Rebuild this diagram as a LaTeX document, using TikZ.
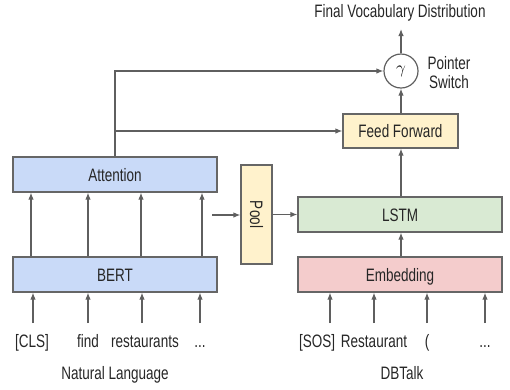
\documentclass[tikz,border=0pt]{standalone}
\usepackage{fontspec}
\setmainfont{Liberation Sans}[FakeStretch=0.75]
\usetikzlibrary{arrows.meta,calc}
\definecolor{lc}{HTML}{5F5F5F}
\definecolor{bc}{HTML}{666666}
\definecolor{bluef}{HTML}{C9DAF8}
\definecolor{yelf}{HTML}{FFF2CC}
\definecolor{grnf}{HTML}{D9EAD3}
\definecolor{redf}{HTML}{F4CCCC}
\begin{document}
\begin{tikzpicture}[x=1pt,y=-1pt,
  box/.style={draw=bc,line width=1.2pt,inner sep=0pt,font=\fontsize{18}{20}\selectfont,text=black!85,text height=13pt,text depth=0pt},
  wide/.style={box,minimum width=204pt,minimum height=35pt},
  arr/.style={draw=lc,line width=1.2pt,-{Latex[length=7pt,width=5.5pt]}},
  ln/.style={draw=lc,line width=1.2pt},
  lbl/.style={inner sep=0pt,anchor=base,font=\fontsize{18}{20}\selectfont,text=black!85}]
\useasboundingbox (0,0) rectangle (510,389);
% boxes
\node[wide,fill=bluef] (att) at (115,174.5) {Attention};
\node[wide,fill=bluef] (bert) at (115,274.5) {BERT};
\node[draw=bc,line width=1.2pt,inner sep=0pt,fill=yelf,minimum width=31pt,minimum height=99pt,font=\fontsize{18}{20}\selectfont,text=black!85] (pool) at (256.5,214.5) {\rotatebox{-90}{Pool}};
\node[wide,fill=grnf] (lstm) at (400,214.5) {LSTM};
\node[wide,fill=redf] (emb) at (400,274.5) {Embedding};
\node[box,fill=yelf,minimum width=115pt,minimum height=34pt] (ff) at (400.5,131) {Feed Forward};
\node[draw=lc,line width=1.2pt,circle,minimum size=34pt,inner sep=0pt,fill=white,font=\fontsize{17}{18}\selectfont] (g) at (401,71) {$\gamma$};
% labels
\node[lbl] (fvd) at (400,17) {Final Vocabulary Distribution};
\node[lbl] (ps1) at (449,69) {Pointer};
\node[lbl] (ps2) at (449,88) {Switch};
\node[lbl] (t1) at (32,347) {[CLS]};
\node[lbl] (t2) at (88,347) {find};
\node[lbl] (t3) at (145,347) {restaurants};
\node[lbl] (t4) at (200,347) {...};
\node[lbl] (s1) at (317,347) {[SOS]};
\node[lbl] (s2) at (374,347) {Restaurant};
\node[lbl] (s3) at (427,347) {(};
\node[lbl] (s4) at (485,347) {...};
\node[lbl] (nl) at (115,379) {Natural Language};
\node[lbl] (db) at (402,379) {DBTalk};
% input coordinates
\coordinate (a1) at (33,323);
\coordinate (a2) at (88,323);
\coordinate (a3) at (142,323);
\coordinate (a4) at (200,323);
\coordinate (b1) at (330,323);
\coordinate (b2) at (374,323);
\coordinate (b3) at (427,323);
\coordinate (b4) at (485,323);
\coordinate (pin) at (212,215);
\coordinate (top) at (400,29);
% input arrows
\foreach \c in {a1,a2,a3,a4} \draw[arr] (\c) -- (\c |- bert.south);
\foreach \c in {b1,b2,b3,b4} \draw[arr] (\c) -- (\c |- emb.south);
% bert to attention
\foreach \x in {31,88,141,202} \draw[arr] (bert.north -| \x,0) -- (att.south -| \x,0);
% pool
\draw[arr] (pin) -- (pool.west |- pin);
\draw[arr] (pool.east |- lstm.west) -- (lstm.west);
% decoder
\draw[arr] (emb.north -| 401,0) -- (lstm.south -| 401,0);
\draw[arr] (lstm.north -| 401,0) -- (ff.south -| 401,0);
\draw[arr] (ff.north -| g.south) -- (g.south);
\draw[arr] (g.north) -- (top -| g.north);
% attention connectors
\draw[arr] (att.north) |- (g.west);
\draw[arr] (att.north |- ff.west) -- (ff.west);
\end{tikzpicture}
\end{document}
